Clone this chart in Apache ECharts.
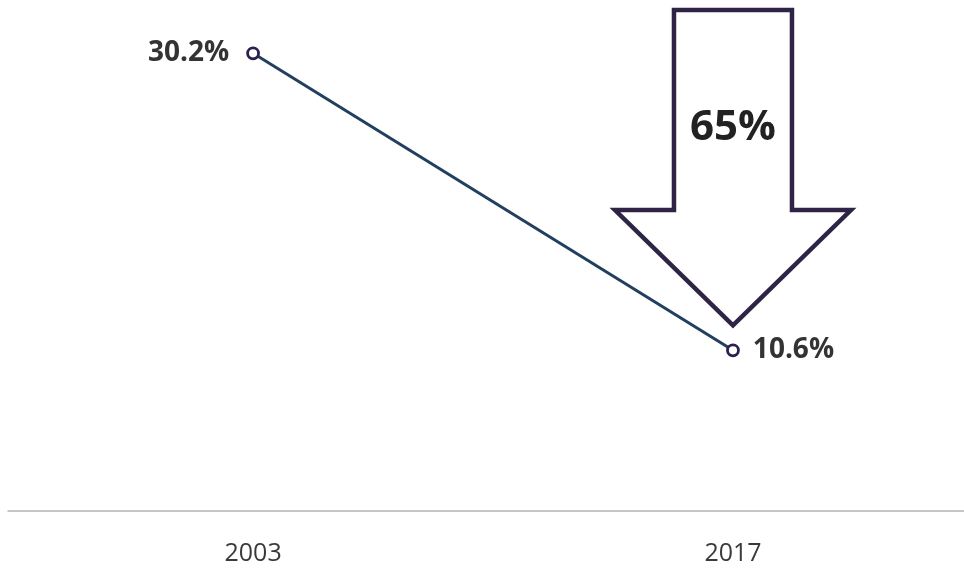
<!DOCTYPE html>
<html>
<head>
<meta charset="utf-8">
<script src="https://cdn.jsdelivr.net/npm/echarts@6/dist/echarts.min.js"></script>
<style>
  html, body { margin: 0; padding: 0; background: #ffffff; }
  #chart { width: 964px; height: 569px; }
</style>
</head>
<body>
<div id="chart"></div>
<script>
// Share of the population, two survey years
const years = [2003, 2017];
const shares = [30.2, 10.6];
const dropLabel = '65%';

const chart = echarts.init(document.getElementById('chart'));

const option = {
  backgroundColor: '#ffffff',
  animation: false,
  grid: { left: 8, right: 0, top: 26, bottom: 58 },
  xAxis: {
    type: 'value',
    min: 1995.85,
    max: 2023.74,
    splitLine: { show: false },
    axisLine: { show: true, onZero: false, lineStyle: { color: '#b4b4b4', width: 1.5 } },
    axisTick: { show: false },
    axisLabel: {
      customValues: years,
      formatter: v => String(v),
      margin: 30,
      fontFamily: 'Open Sans',
      fontSize: 25,
      color: '#3a3a3a'
    }
  },
  yAxis: {
    type: 'value',
    min: 0,
    max: 32,
    show: false,
    splitLine: { show: false }
  },
  series: [{
    type: 'line',
    data: years.map((y, i) => ({
      value: [y, shares[i]],
      label: i === 0 ? { position: 'left', distance: 17 } : { position: 'right', distance: 13 }
    })),
    symbol: 'circle',
    symbolSize: 11,
    lineStyle: { color: '#22405e', width: 3 },
    itemStyle: { color: '#ffffff', borderColor: '#2e1f50', borderWidth: 2.8 },
    label: {
      show: true,
      fontFamily: 'Open Sans',
      fontWeight: 'bold',
      fontSize: 28,
      color: '#333333',
      formatter: p => p.value[1].toFixed(1) + '%'
    },
    emphasis: { disabled: true }
  }]
};
chart.setOption(option);

// Down arrow whose tip sits just above the 2017 point
const tip = chart.convertToPixel({ gridIndex: 0 }, [years[1], shares[1]]);
const cx = tip[0];
const tipY = tip[1] - 25;
const shaftHalf = 59, headHalf = 118;
const topY = 10, neckY = 210;
chart.setOption({
  graphic: [{
    type: 'polygon',
    shape: {
      points: [
        [cx - shaftHalf, topY], [cx + shaftHalf, topY], [cx + shaftHalf, neckY],
        [cx + headHalf, neckY], [cx, tipY], [cx - headHalf, neckY],
        [cx - shaftHalf, neckY]
      ]
    },
    style: { fill: '#ffffff', stroke: '#2f2446', lineWidth: 4.5, lineJoin: 'miter' },
    z: 10
  }, {
    type: 'text',
    x: cx,
    y: 128,
    style: {
      text: dropLabel,
      align: 'center',
      verticalAlign: 'middle',
      fontFamily: 'Open Sans',
      fontWeight: 'bold',
      fontSize: 42,
      fill: '#222222'
    },
    z: 11
  }]
});
</script>
</body>
</html>
